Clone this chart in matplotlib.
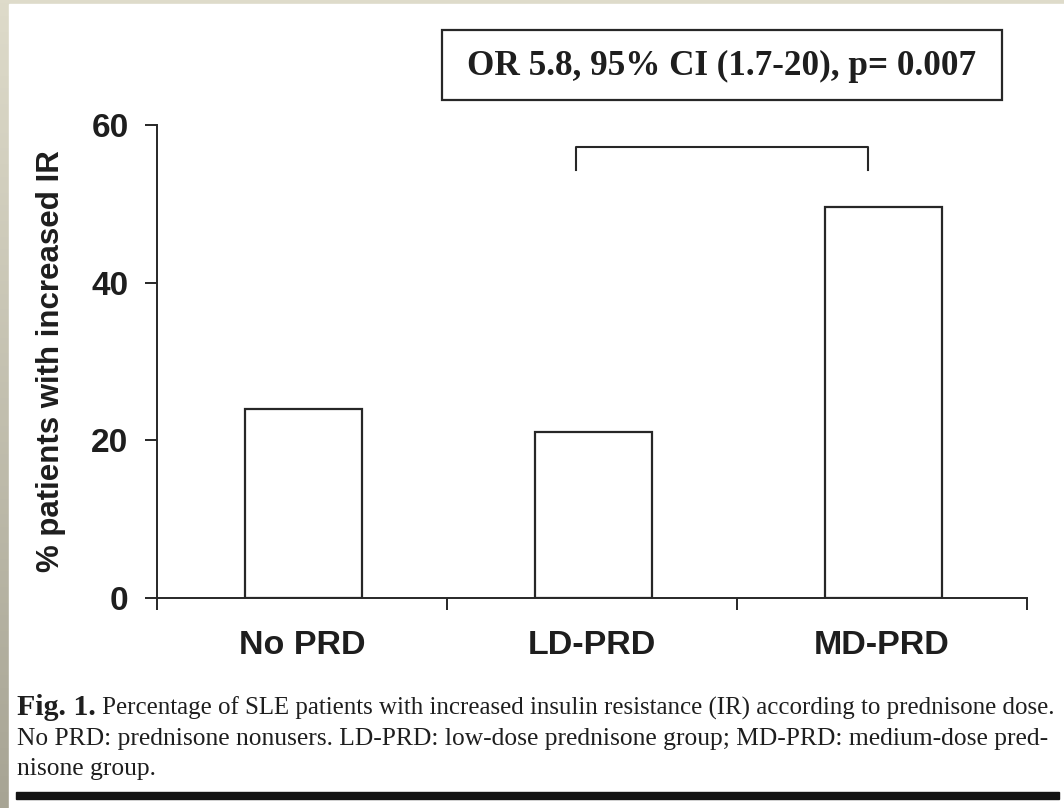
import numpy as np
import matplotlib
matplotlib.use('Agg')
import matplotlib.pyplot as plt
from matplotlib.patches import Rectangle

# data
groups = ['No PRD', 'LD-PRD', 'MD-PRD']
pct_ir = [24, 21, 49.6]
y_ticks = [0, 20, 40, 60]
stat_text = 'OR 5.8, 95% CI (1.7-20), p= 0.007'
ylabel = '% patients with increased IR'
cap_bold = 'Fig. 1.'
cap_lines = [' Percentage of SLE patients with increased insulin resistance (IR) according to prednisone dose.',
             'No PRD: prednisone nonusers. LD-PRD: low-dose prednisone group; MD-PRD: medium-dose pred-',
             'nisone group.']

W, H = 1064, 808
ink = '#272727'
sans = 'Liberation Sans'
serif = 'Liberation Serif'

fig = plt.figure(figsize=(W/100, H/100), dpi=100)

# beige slide frame (left and top strip)
bg = fig.add_axes([0, 0, 1, 1], zorder=-10)
grad = np.linspace(0, 1, 256).reshape(-1, 1)
cmap = matplotlib.colors.LinearSegmentedColormap.from_list('frame', ['#dedbca', '#a7a494'])
bg.imshow(grad, aspect='auto', cmap=cmap, extent=[0, 1, 0, 1])
bg.add_patch(Rectangle((9/W, 0), 1, 1-4/H, color='white', transform=bg.transAxes))
bg.set_axis_off()

ax = fig.add_axes([157/W, 1-598/H, 870/W, 473/H])
x = np.arange(len(groups)) + 0.5
ax.bar(x + 0.005, pct_ir, width=0.405, facecolor='white', edgecolor=ink, linewidth=1.6)

ax.set_xlim(0, len(groups))
ax.set_ylim(0, 60)
ax.set_yticks(y_ticks)
ax.set_xticks(np.arange(len(groups)+1))
ax.set_xticklabels([])
ax.set_xticks(x, minor=True)
ax.set_xticklabels(groups, minor=True, fontsize=24.5, fontweight='bold', family=sans, color='#1e1e1e')
ax.tick_params(axis='x', which='minor', length=0, pad=23)
ax.tick_params(axis='both', which='major', direction='out', length=8.5, width=1.4, color=ink)
ax.tick_params(axis='y', pad=12)
for lab in ax.get_yticklabels():
    lab.set_fontsize(24)
    lab.set_fontweight('bold')
    lab.set_family(sans)
    lab.set_color('#1e1e1e')
for s in ['top', 'right']:
    ax.spines[s].set_visible(False)
for s in ['left', 'bottom']:
    ax.spines[s].set_color(ink)
    ax.spines[s].set_linewidth(1.4)
ax.set_ylabel(ylabel, fontsize=22.5, fontweight='bold', family=sans, color='#1e1e1e', labelpad=18)

# significance bracket between LD-PRD and MD-PRD
bx0, bx1 = x[1] - 0.055, x[2] - 0.05
ax.plot([bx0, bx0, bx1, bx1], [54.3, 57.2, 57.2, 54.3], color=ink, linewidth=1.5, clip_on=False)

# statistics box
fig.patches.append(Rectangle((442/W, 1-100/H), 560/W, 70/H, fill=False, edgecolor=ink,
                             linewidth=1.6, transform=fig.transFigure))
fig.text(722/W, 1-66/H, stat_text, ha='center', va='center', fontsize=25.3, fontweight='bold',
         family=serif, color='#1e1e1e')

# caption
t0 = fig.text(17/W, 1-715/H, cap_bold, ha='left', va='baseline', fontsize=21.5, fontweight='bold',
              family=serif, color='#1e1e1e')
fig.canvas.draw()
bb = t0.get_window_extent()
fig.text(bb.x1/W, 1-715/H, cap_lines[0], ha='left', va='baseline', fontsize=17.9, family=serif, color='#1e1e1e')
fig.text(17/W, 1-745/H, cap_lines[1], ha='left', va='baseline', fontsize=18.4, family=serif, color='#1e1e1e')
fig.text(17/W, 1-775/H, cap_lines[2], ha='left', va='baseline', fontsize=18.4, family=serif, color='#1e1e1e')
fig.patches.append(Rectangle((16/W, 1-799/H), 1043/W, 7/H, color='#141414', transform=fig.transFigure))

fig.savefig('out.png', dpi=100)
